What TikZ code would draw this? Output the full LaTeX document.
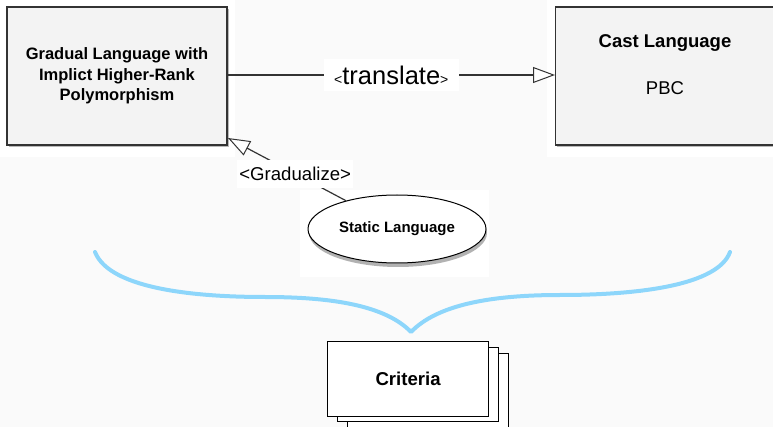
\documentclass[tikz,border=0pt]{standalone}
\usepackage{fontspec}
\setmainfont{Liberation Sans}
\usetikzlibrary{arrows.meta,shapes.geometric,shadows}
\definecolor{bgc}{HTML}{FAFAFA}
\definecolor{boxfill}{HTML}{F3F3F3}
\definecolor{edge}{HTML}{333333}
\definecolor{bracec}{HTML}{8DD6FB}
\tikzset{
  langbox/.style={draw=edge, line width=1.2pt, fill=boxfill, align=center,
    drop shadow={shadow xshift=1.5pt, shadow yshift=-2pt, opacity=0.55}},
  conn/.style={draw=edge, line width=1.2pt},
  opentip/.style={-{Triangle[length=22pt,width=16pt,fill=white,line width=1pt]}},
  lbl/.style={fill=white, inner sep=2pt, text=black},
  critbox/.style={draw=black, line width=1.2pt, fill=white}
}
\begin{document}
\begin{tikzpicture}[x=1pt,y=-1pt]
\useasboundingbox (0,0) rectangle (773,427);
\fill[bgc] (0,0) rectangle (773,427);
% white backdrops
\fill[white] (0,0) rectangle (235,157);
\fill[white] (547,0) rectangle (773,157);
\fill[white] (300,190) rectangle (489,277);
% left box
\node[langbox, minimum width=220pt, minimum height=138pt, font=\bfseries\fontsize{16.5}{20.5}\selectfont] (L) at (117,76)
  {Gradual Language with\\Implict Higher-Rank\\Polymorphism};
% right box
\node[langbox, minimum width=240pt, minimum height=138pt, anchor=west] (R) at (555,76) {};
\node[font=\bfseries\fontsize{18.5}{22}\selectfont] (Rt) at (665,43) {Cast Language};
\node[font=\fontsize{18.5}{22}\selectfont] (Rp) at (665,88) {PBC};
% static language ellipse
\node[ellipse, draw=black, line width=1pt, fill=white, minimum width=178pt, minimum height=68pt,
  drop shadow={shadow xshift=1pt, shadow yshift=-4pt, opacity=0.6},
  font=\bfseries\fontsize{15}{18}\selectfont] (S) at (397,229) {Static Language};
% translate arrow
\draw[conn, opentip] (L.east |- 0,75) -- (R.west |- 0,75)
  node[lbl, pos=0.5, font=\fontsize{25.5}{28}\selectfont, minimum width=135pt, minimum height=32pt]
  {{\fontsize{14}{16}\selectfont<}translate{\fontsize{14}{16}\selectfont>}};
% gradualize arrow
\coordinate (Gt) at (228,138);
\draw[conn, opentip] (S.151) -- (Gt)
  node[lbl, pos=0.43, font=\fontsize{18.6}{22}\selectfont, minimum height=28pt] {<Gradualize>};
% brace
\draw[bracec, line width=4pt, line cap=round, line join=round]
  (95,252) .. controls (110,290) and (200,297) .. (265,297)
  .. controls (330,297) and (385,305) .. (411,332)
  .. controls (437,305) and (490,295) .. (560,295)
  .. controls (640,295) and (718,285) .. (730,252);
% criteria stack
\node[critbox, minimum width=161pt, minimum height=90pt, anchor=north west] (C3) at (347,353) {};
\node[critbox, minimum width=161pt, minimum height=74pt, anchor=north west] (C2) at (337,347) {};
\node[critbox, minimum width=161pt, minimum height=75pt, anchor=north west,
  font=\bfseries\fontsize{18.6}{22}\selectfont] (C1) at (327,341) {Criteria};
\end{tikzpicture}
\end{document}
